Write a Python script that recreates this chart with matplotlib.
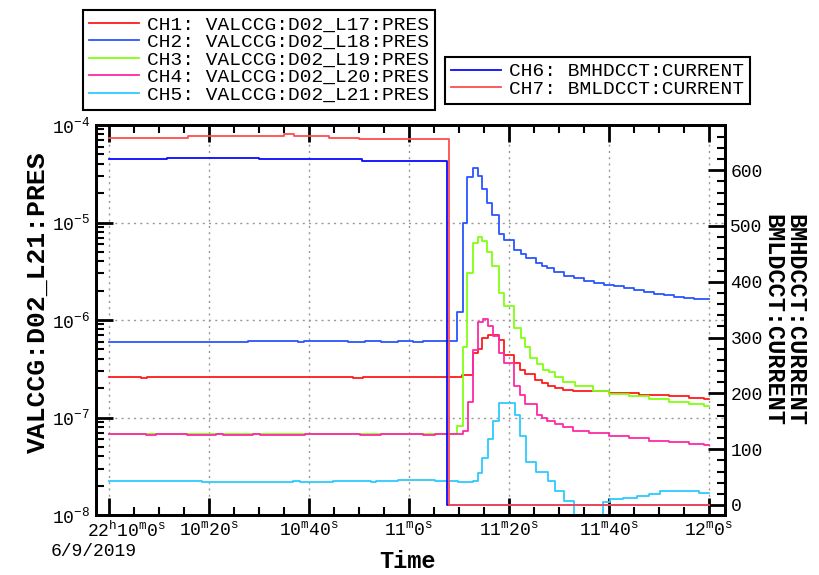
import matplotlib
matplotlib.use("Agg")
import matplotlib.pyplot as plt
from matplotlib.ticker import MultipleLocator, FixedLocator, FixedFormatter

plt.rcParams["font.family"] = ["Liberation Mono", "DejaVu Sans Mono"]
plt.rcParams["mathtext.fontset"] = "custom"
plt.rcParams["mathtext.rm"] = "Liberation Mono"
plt.rcParams["mathtext.it"] = "Liberation Mono:italic"
plt.rcParams["mathtext.bf"] = "Liberation Mono:bold"
plt.rcParams["axes.unicode_minus"] = False

# time in seconds after 22:10:00 (6/9/2019)
# CH1 VALCCG:D02_L17:PRES
t1 = [0, 6.5, 7.6, 48.8, 50.8, 70.6, 72.8, 73.8, 74.6, 75.8, 76.8, 78, 79, 81, 82.2, 83.2,
      85.2, 86.6, 87.8, 89.2, 90.8, 92.8, 100, 106, 112, 116, 119, 120]
p1 = [2.63e-7, 2.55e-7, 2.63e-7, 2.55e-7, 2.63e-7, 2.7e-7, 4.6e-7, 5.0e-7, 6.5e-7, 7.0e-7,
      7.1e-7, 6.2e-7, 4.4e-7, 3.6e-7, 3.1e-7, 2.8e-7, 2.4e-7, 2.25e-7, 2.1e-7, 2.0e-7,
      1.9e-7, 1.85e-7, 1.78e-7, 1.72e-7, 1.65e-7, 1.6e-7, 1.55e-7, 1.55e-7]

# CH2 VALCCG:D02_L18:PRES
t2 = [0, 27.8, 37.8, 39.1, 47.8, 51.2, 54.5, 57.8, 60.8, 62.9, 69.6, 70.8, 71.6, 72.8, 73.8,
      74.6, 75.6, 76.6, 78, 79, 81, 82.4, 83.4, 85.4, 86.6, 87.6, 89, 91, 93, 95, 97, 99,
      101, 103, 105, 107, 109, 111, 113, 115, 117, 119, 120]
p2 = [6.0e-7, 6.14e-7, 6.0e-7, 6.14e-7, 6.0e-7, 6.14e-7, 6.0e-7, 6.14e-7, 6.0e-7, 6.14e-7,
      1.2e-6, 1.0e-5, 2.9e-5, 3.6e-5, 3.0e-5, 2.2e-5, 1.6e-5, 1.2e-5, 7.6e-6, 6.6e-6,
      5.2e-6, 4.7e-6, 4.3e-6, 3.8e-6, 3.6e-6, 3.4e-6, 3.1e-6, 2.8e-6, 2.7e-6, 2.5e-6,
      2.4e-6, 2.3e-6, 2.25e-6, 2.15e-6, 2.05e-6, 1.95e-6, 1.87e-6, 1.8e-6, 1.74e-6, 1.7e-6,
      1.66e-6, 1.64e-6, 1.64e-6]

# CH3 VALCCG:D02_L19:PRES
t3 = [0, 69.6, 70.8, 71.6, 72.8, 73.8, 74.6, 75.6, 76.6, 78, 79, 81, 82.4, 83.2, 84.2, 85.6,
      86.8, 88, 89.2, 90.8, 93.2, 96.8, 100, 104, 108, 112, 116, 119, 120]
p3 = [6.8e-8, 8.1e-8, 5.3e-7, 3.0e-6, 6.1e-6, 7.1e-6, 6.5e-6, 5.0e-6, 3.6e-6, 1.9e-6,
      1.4e-6, 8.3e-7, 6.6e-7, 5.3e-7, 4.1e-7, 3.5e-7, 3.1e-7, 2.9e-7, 2.6e-7, 2.3e-7,
      2.1e-7, 1.85e-7, 1.75e-7, 1.65e-7, 1.55e-7, 1.45e-7, 1.38e-7, 1.32e-7, 1.32e-7]

# CH4 VALCCG:D02_L20:PRES
t4 = [0, 7.5, 9.5, 15.7, 21.5, 22.9, 28.9, 30.2, 39.2, 50.2, 54.5, 62.9, 65.2, 70.8, 71.8,
      72.8, 73.8, 74.8, 75.8, 76.8, 78, 79, 81, 82.2, 83.2, 85.6, 86.6, 87.6, 89.2, 90.8,
      92.8, 96, 100, 104, 108, 112, 116, 119, 120]
p4 = [6.8e-8, 6.6e-8, 6.8e-8, 6.6e-8, 6.8e-8, 6.6e-8, 6.8e-8, 6.6e-8, 6.8e-8, 6.6e-8,
      6.8e-8, 6.6e-8, 6.7e-8, 7.2e-8, 1.45e-7, 4.9e-7, 9.5e-7, 1.03e-6, 8.7e-7, 6.8e-7,
      4.6e-7, 3.6e-7, 2.1e-7, 1.7e-7, 1.37e-7, 1.05e-7, 1.0e-7, 9.2e-8, 8.6e-8, 8.0e-8,
      7.2e-8, 6.9e-8, 6.4e-8, 6.1e-8, 5.8e-8, 5.6e-8, 5.4e-8, 5.2e-8, 5.2e-8]

# CH5 VALCCG:D02_L21:PRES (drops below 1e-8 around 11m33s)
t5 = [0, 18.6, 36.8, 38.2, 44.9, 52.5, 53.5, 57.8, 65.2, 69.9, 72.8, 73.8, 74.6, 75.8, 76.8,
      78, 81.2, 82.2, 83.4, 85.4, 87.8, 89.2, 91, 93, 98.8, 100.2, 102.8, 105.6, 108, 110.2,
      118, 120]
p5 = [2.25e-8, 2.2e-8, 2.25e-8, 2.2e-8, 2.25e-8, 2.2e-8, 2.25e-8, 2.3e-8, 2.25e-8, 2.2e-8,
      2.25e-8, 2.7e-8, 3.8e-8, 6.0e-8, 9.3e-8, 1.4e-7, 1.07e-7, 6.5e-8, 3.5e-8, 2.75e-8,
      2.25e-8, 1.75e-8, 1.4e-8, 5e-9, 1.35e-8, 1.45e-8, 1.5e-8, 1.55e-8, 1.65e-8, 1.75e-8,
      1.7e-8, 1.7e-8]

# CH6 BMHDCCT:CURRENT, CH7 BMLDCCT:CURRENT
t6 = [0, 11.6, 30, 50.6, 67.6, 120]
i6 = [620, 622, 620, 616, 0, 0]
t7 = [0, 15.8, 35, 37, 44, 50, 68, 120]
i7 = [657, 661, 665, 661, 658, 656, 0, 0]

press_labels = ["CH1: VALCCG:D02_L17:PRES", "CH2: VALCCG:D02_L18:PRES",
                "CH3: VALCCG:D02_L19:PRES", "CH4: VALCCG:D02_L20:PRES",
                "CH5: VALCCG:D02_L21:PRES"]
curr_labels = ["CH6: BMHDCCT:CURRENT", "CH7: BMLDCCT:CURRENT"]
press_colors = ["#ff1a1a", "#2b55ff", "#80ff10", "#ff2aa6", "#2ccaff"]
curr_colors = ["#0a0aff", "#ff4d4d"]

xticks = [0, 20, 40, 60, 80, 100, 120]
xticklabels = ["", r"$10^{\rm m}20^{\rm s}$", r"$10^{\rm m}40^{\rm s}$", r"$11^{\rm m}0^{\rm s}$",
               r"$11^{\rm m}20^{\rm s}$", r"$11^{\rm m}40^{\rm s}$", r"$12^{\rm m}0^{\rm s}$"]

fig = plt.figure(figsize=(8.2, 5.75), dpi=100)
ax = fig.add_axes([0.117, 0.1043, 0.767, 0.6783])
ax2 = ax.twinx()

series = [(t1, p1), (t2, p2), (t3, p3), (t4, p4), (t5, p5)]
h1 = []
for (t, p), c, lab in zip(series, press_colors, press_labels):
    ln, = ax.plot(t, p, drawstyle="steps-post", color=c, lw=1.3, label=lab)
    h1.append(ln)

h2 = []
for (t, i), c, lab in zip([(t6, i6), (t7, i7)], curr_colors, curr_labels):
    ln, = ax2.plot(t, i, drawstyle="steps-post", color=c, lw=1.3, label=lab)
    h2.append(ln)

ax.set_yscale("log")
ax.set_ylim(1e-8, 1e-4)
ax.set_xlim(-2.6, 123.2)
ax2.set_ylim(-18, 681)

ax.xaxis.set_major_locator(FixedLocator(xticks))
ax.xaxis.set_major_formatter(FixedFormatter(xticklabels))
ax.xaxis.set_minor_locator(MultipleLocator(5))
ax2.yaxis.set_major_locator(MultipleLocator(100))
ax2.yaxis.set_minor_locator(MultipleLocator(20))

ax.grid(True, which="major", linestyle=(0, (1.5, 3)), color="#999999", lw=1)

for a in (ax, ax2):
    for s in a.spines.values():
        s.set_linewidth(2)
ax.tick_params(which="both", direction="in", top=True, right=False, labelsize=13, pad=4)
ax.tick_params(which="major", length=12, width=2)
ax.tick_params(which="minor", length=6, width=1.5)
ax2.tick_params(which="both", direction="in", labelsize=13, pad=4)
ax2.tick_params(which="major", length=12, width=2)
ax2.tick_params(which="minor", length=6, width=1.5)

# first tick label with hour and date
ax.annotate(r"$22^{\rm h}10^{\rm m}0^{\rm s}$", xy=(3.6, 0), xycoords=("data", "axes fraction"),
            xytext=(0, -4), textcoords="offset points", ha="center", va="top", fontsize=13)
ax.annotate("6/9/2019", xy=(-11.6, 0), xycoords=("data", "axes fraction"),
            xytext=(0, -20), textcoords="offset points", ha="left", va="top", fontsize=13,
            annotation_clip=False)

fig.text(408 / 820, 1 - 561 / 575, "Time", ha="center", va="center",
         fontsize=17, fontweight="bold")
fig.text(38 / 820, 1 - 302 / 575, "VALCCG:D02_L21:PRES", rotation=90, ha="center",
         va="center", fontsize=19, fontweight="bold")
fig.text(773 / 820, 1 - 320 / 575, "BMLDCCT:CURRENT", rotation=270, ha="center", va="center",
         fontsize=17, fontweight="bold")
fig.text(795 / 820, 1 - 320 / 575, "BMHDCCT:CURRENT", rotation=270, ha="center", va="center",
         fontsize=17, fontweight="bold")

leg_kw = dict(loc="upper left", bbox_transform=fig.transFigure, fontsize=14, frameon=True,
              fancybox=False, edgecolor="black", framealpha=1, borderaxespad=0,
              borderpad=0.3, handlelength=2.6, handletextpad=0.4, labelspacing=0.0)
leg1 = fig.legend(handles=h1, bbox_to_anchor=(83 / 820, 1 - 10 / 575), **leg_kw)
leg2 = fig.legend(handles=h2, bbox_to_anchor=(445 / 820, 1 - 57 / 575), **leg_kw)
for lg in (leg1, leg2):
    lg.get_frame().set_linewidth(1.5)

fig.savefig("out.png", dpi=100)
